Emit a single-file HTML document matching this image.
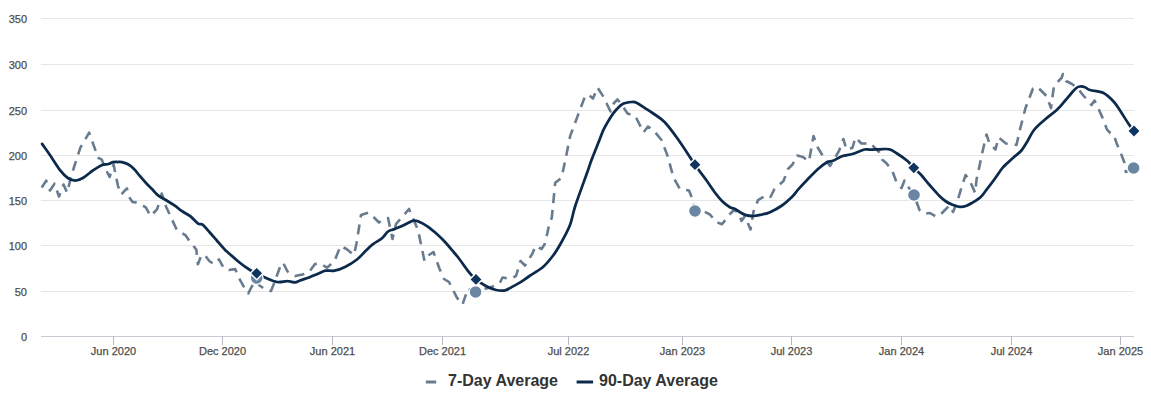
<!DOCTYPE html>
<html><head><meta charset="utf-8"><title>Chart</title>
<style>html,body{margin:0;padding:0;background:#fff;width:1151px;height:400px;overflow:hidden}svg{display:block}text{font-family:"Liberation Sans",sans-serif}</style>
</head><body>
<svg width="1151" height="400" viewBox="0 0 1151 400">
<rect width="1151" height="400" fill="#ffffff"/>
<path d="M41 18.5 L1134 18.5" stroke="#e6e6e6" stroke-width="1" fill="none"/>
<path d="M41 64.5 L1134 64.5" stroke="#e6e6e6" stroke-width="1" fill="none"/>
<path d="M41 110.5 L1134 110.5" stroke="#e6e6e6" stroke-width="1" fill="none"/>
<path d="M41 155.5 L1134 155.5" stroke="#e6e6e6" stroke-width="1" fill="none"/>
<path d="M41 200.5 L1134 200.5" stroke="#e6e6e6" stroke-width="1" fill="none"/>
<path d="M41 245.5 L1134 245.5" stroke="#e6e6e6" stroke-width="1" fill="none"/>
<path d="M41 291.5 L1134 291.5" stroke="#e6e6e6" stroke-width="1" fill="none"/>
<path d="M41 336.5 L1134 336.5" stroke="#c6cad2" stroke-width="1" fill="none"/>
<path d="M113.5 336 L113.5 345" stroke="#b4b8c0" stroke-width="1" fill="none"/>
<path d="M222.5 336 L222.5 345" stroke="#b4b8c0" stroke-width="1" fill="none"/>
<path d="M332.5 336 L332.5 345" stroke="#b4b8c0" stroke-width="1" fill="none"/>
<path d="M442.5 336 L442.5 345" stroke="#b4b8c0" stroke-width="1" fill="none"/>
<path d="M568.5 336 L568.5 345" stroke="#b4b8c0" stroke-width="1" fill="none"/>
<path d="M682.5 336 L682.5 345" stroke="#b4b8c0" stroke-width="1" fill="none"/>
<path d="M791.5 336 L791.5 345" stroke="#b4b8c0" stroke-width="1" fill="none"/>
<path d="M901.5 336 L901.5 345" stroke="#b4b8c0" stroke-width="1" fill="none"/>
<path d="M1011.5 336 L1011.5 345" stroke="#b4b8c0" stroke-width="1" fill="none"/>
<path d="M1120.5 336 L1120.5 345" stroke="#b4b8c0" stroke-width="1" fill="none"/>
<text x="27" y="22.5" text-anchor="end" font-family="Liberation Sans, sans-serif" font-size="11" fill="#4d4d4d" stroke="#4d4d4d" stroke-width="0.25">350</text>
<text x="27" y="68.5" text-anchor="end" font-family="Liberation Sans, sans-serif" font-size="11" fill="#4d4d4d" stroke="#4d4d4d" stroke-width="0.25">300</text>
<text x="27" y="114.5" text-anchor="end" font-family="Liberation Sans, sans-serif" font-size="11" fill="#4d4d4d" stroke="#4d4d4d" stroke-width="0.25">250</text>
<text x="27" y="159.5" text-anchor="end" font-family="Liberation Sans, sans-serif" font-size="11" fill="#4d4d4d" stroke="#4d4d4d" stroke-width="0.25">200</text>
<text x="27" y="204.5" text-anchor="end" font-family="Liberation Sans, sans-serif" font-size="11" fill="#4d4d4d" stroke="#4d4d4d" stroke-width="0.25">150</text>
<text x="27" y="249.5" text-anchor="end" font-family="Liberation Sans, sans-serif" font-size="11" fill="#4d4d4d" stroke="#4d4d4d" stroke-width="0.25">100</text>
<text x="27" y="295.5" text-anchor="end" font-family="Liberation Sans, sans-serif" font-size="11" fill="#4d4d4d" stroke="#4d4d4d" stroke-width="0.25">50</text>
<text x="27" y="340.5" text-anchor="end" font-family="Liberation Sans, sans-serif" font-size="11" fill="#4d4d4d" stroke="#4d4d4d" stroke-width="0.25">0</text>
<text x="113.5" y="355" text-anchor="middle" font-family="Liberation Sans, sans-serif" font-size="11" fill="#4d4d4d" stroke="#4d4d4d" stroke-width="0.25">Jun 2020</text>
<text x="222.5" y="355" text-anchor="middle" font-family="Liberation Sans, sans-serif" font-size="11" fill="#4d4d4d" stroke="#4d4d4d" stroke-width="0.25">Dec 2020</text>
<text x="332.5" y="355" text-anchor="middle" font-family="Liberation Sans, sans-serif" font-size="11" fill="#4d4d4d" stroke="#4d4d4d" stroke-width="0.25">Jun 2021</text>
<text x="442.5" y="355" text-anchor="middle" font-family="Liberation Sans, sans-serif" font-size="11" fill="#4d4d4d" stroke="#4d4d4d" stroke-width="0.25">Dec 2021</text>
<text x="568.5" y="355" text-anchor="middle" font-family="Liberation Sans, sans-serif" font-size="11" fill="#4d4d4d" stroke="#4d4d4d" stroke-width="0.25">Jul 2022</text>
<text x="682.5" y="355" text-anchor="middle" font-family="Liberation Sans, sans-serif" font-size="11" fill="#4d4d4d" stroke="#4d4d4d" stroke-width="0.25">Jan 2023</text>
<text x="791.5" y="355" text-anchor="middle" font-family="Liberation Sans, sans-serif" font-size="11" fill="#4d4d4d" stroke="#4d4d4d" stroke-width="0.25">Jul 2023</text>
<text x="901.5" y="355" text-anchor="middle" font-family="Liberation Sans, sans-serif" font-size="11" fill="#4d4d4d" stroke="#4d4d4d" stroke-width="0.25">Jan 2024</text>
<text x="1011.5" y="355" text-anchor="middle" font-family="Liberation Sans, sans-serif" font-size="11" fill="#4d4d4d" stroke="#4d4d4d" stroke-width="0.25">Jul 2024</text>
<text x="1120.5" y="355" text-anchor="middle" font-family="Liberation Sans, sans-serif" font-size="11" fill="#4d4d4d" stroke="#4d4d4d" stroke-width="0.25">Jan 2025</text>
<path d="M41.7 187.5 L46.2 180.7 L50.0 190.5 L54.5 183.7 L59.0 196.5 L63.5 184.5 L67.2 192.7 L71.0 177.0 L74.7 165.0 L80.4 147.7 L89.2 132.6 L98.0 157.6 L101.7 159.6 L105.1 168.0 L109.6 177.0 L113.6 164.6 L117.9 185.6 L121.2 194.6 L126.9 188.4 L129.1 196.9 L132.5 201.9 L135.9 202.5 L141.5 204.7 L146.0 207.6 L150.5 216.0 L157.2 209.2 L161.7 193.5 L166.2 207.0 L173.0 221.6 L176.7 229.7 L185.7 235.4 L189.8 241.5 L196.3 249.6 L197.9 264.3 L201.1 256.1 L204.4 254.5 L209.3 261.0 L214.1 264.3 L219.0 259.4 L223.9 268.3 L228.8 270.0 L235.3 269.1 L238.5 277.3 L245.0 288.7 L248.3 293.5 L251.5 287.0 L256.7 280.0 L259.0 285.0 L265.0 289.5 L271.0 291.0 L274.0 283.5 L280.0 267.0 L283.0 262.5 L287.5 271.5 L295.0 276.0 L302.5 274.5 L309.0 272.2 L315.0 264.0 L319.5 263.2 L327.0 267.7 L334.5 261.0 L340.5 246.0 L346.5 249.0 L354.0 255.0 L356.5 243.5 L361.0 215.0 L368.5 212.7 L373.0 216.5 L379.0 222.5 L383.5 219.5 L388.0 218.0 L392.5 239.0 L396.0 224.0 L409.0 209.0 L413.5 219.5 L418.0 230.0 L424.5 261.0 L429.0 255.0 L433.5 252.0 L439.4 268.5 L444.0 279.0 L449.0 282.0 L456.9 297.6 L462.5 304.5 L468.0 288.5 L475.6 292.0 L492.9 286.4 L499.5 283.5 L502.5 277.5 L510.0 279.0 L516.0 276.0 L520.5 261.0 L525.0 265.5 L532.5 253.5 L535.5 246.0 L541.5 249.0 L544.5 244.5 L547.5 232.5 L549.0 225.0 L551.8 217.7 L555.2 182.8 L561.5 177.8 L565.3 160.2 L570.3 135.6 L577.9 115.4 L585.4 95.3 L589.2 95.3 L593.0 98.5 L597.5 87.5 L602.9 95.9 L606.4 103.0 L610.5 111.5 L614.0 103.0 L617.5 99.5 L621.0 103.5 L627.4 113.4 L635.3 116.0 L638.8 123.0 L643.5 132.5 L648.0 126.5 L654.0 131.0 L661.5 140.0 L667.3 155.1 L673.6 177.8 L680.0 189.0 L689.0 190.5 L692.0 198.0 L695.0 210.7 L704.0 211.5 L710.0 214.5 L716.0 222.0 L722.0 224.2 L729.5 214.5 L734.0 210.0 L738.5 213.0 L741.5 221.0 L745.0 216.0 L750.5 229.5 L753.5 211.5 L758.0 200.2 L764.0 196.5 L770.0 198.0 L774.5 189.0 L783.5 181.0 L788.0 169.0 L792.5 164.5 L797.0 155.5 L803.0 157.0 L809.0 161.5 L813.5 136.0 L818.0 148.0 L824.0 157.7 L830.0 166.0 L839.0 151.0 L843.4 139.0 L846.4 149.5 L852.4 148.0 L855.4 137.5 L861.4 143.5 L867.4 143.5 L870.0 143.0 L879.0 152.0 L882.0 159.5 L886.5 163.2 L892.5 171.5 L897.0 183.5 L901.5 188.0 L904.5 180.5 L909.0 188.0 L914.0 195.0 L919.5 210.0 L924.0 213.7 L930.0 213.0 L936.0 216.7 L940.5 214.5 L945.0 210.0 L949.5 205.5 L953.0 212.0 L957.4 201.2 L961.5 187.5 L965.6 175.0 L969.7 180.6 L975.2 193.0 L976.6 179.2 L979.3 166.9 L982.0 154.0 L986.5 134.5 L989.5 143.5 L995.5 149.5 L998.5 137.5 L1006.0 143.5 L1016.5 145.0 L1019.5 131.5 L1025.5 108.0 L1033.0 88.5 L1037.5 87.0 L1046.5 96.0 L1051.0 108.0 L1054.0 85.5 L1061.5 78.0 L1063.0 74.0 L1066.0 81.0 L1072.0 84.0 L1078.0 88.5 L1082.5 94.5 L1091.5 105.0 L1094.5 100.5 L1097.5 106.5 L1103.5 120.0 L1107.0 129.6 L1110.4 133.0 L1113.7 134.5 L1117.0 144.3 L1121.8 155.7 L1124.2 162.0 L1125.8 172.0 L1133.6 168.0" stroke="#687b8f" stroke-width="2.6" fill="none" stroke-dasharray="10,7" stroke-linejoin="round"/>
<path d="M42.1 143.9 C43.4 145.8 47.1 150.9 50.1 155.3 C53.1 159.7 57.2 166.6 60.2 170.4 C63.2 174.2 65.3 176.3 67.8 178.0 C70.3 179.7 72.8 180.5 75.3 180.5 C77.8 180.5 80.0 179.7 82.9 178.0 C85.9 176.3 89.9 172.5 93.0 170.4 C96.1 168.3 99.1 166.3 101.7 165.2 C104.3 164.1 106.6 164.5 108.5 164.0 C110.4 163.5 111.5 162.5 113.0 162.2 C114.5 161.9 116.0 162.0 117.5 162.0 C119.0 162.0 120.2 161.8 122.0 162.2 C123.8 162.6 126.0 163.2 128.0 164.3 C130.0 165.4 132.0 167.0 134.0 169.0 C136.0 171.0 138.0 173.9 140.0 176.2 C142.0 178.5 144.0 180.9 146.0 183.0 C148.0 185.1 149.9 186.9 152.0 189.0 C154.1 191.1 156.0 193.8 158.4 195.7 C160.8 197.6 163.4 198.5 166.2 200.2 C169.0 201.9 172.7 204.2 175.2 205.9 C177.7 207.6 178.7 208.9 181.2 210.6 C183.7 212.3 187.4 214.0 190.2 216.2 C193.0 218.4 196.0 222.2 198.1 223.6 C200.2 225.0 200.7 223.3 202.6 224.7 C204.5 226.1 207.0 229.3 209.4 232.0 C211.8 234.7 214.6 238.0 217.2 241.0 C219.8 244.0 223.4 248.2 225.1 250.0 C226.8 251.8 225.1 249.9 227.5 252.0 C229.9 254.1 235.8 259.5 239.5 262.5 C243.2 265.5 247.1 268.2 250.0 270.0 C252.9 271.8 254.2 272.1 256.7 273.3 C259.2 274.6 261.6 276.1 265.0 277.5 C268.4 278.9 273.2 281.4 277.0 282.0 C280.8 282.6 284.5 281.1 287.5 281.2 C290.5 281.2 292.9 282.4 295.0 282.3 C297.1 282.2 297.7 281.3 300.0 280.5 C302.3 279.7 306.0 278.6 309.0 277.5 C312.0 276.4 315.2 274.8 318.0 273.7 C320.8 272.6 322.8 271.2 325.5 270.7 C328.2 270.2 331.2 271.3 334.5 270.7 C337.8 270.1 341.2 268.9 345.0 267.0 C348.8 265.1 353.5 262.2 357.0 259.5 C360.5 256.8 363.3 253.1 366.0 250.5 C368.7 247.9 370.3 246.2 373.0 244.2 C375.7 242.1 379.5 240.3 382.0 238.2 C384.5 236.1 386.0 233.0 388.0 231.5 C390.0 230.0 391.5 230.2 394.0 229.2 C396.5 228.2 400.5 226.6 403.0 225.5 C405.5 224.4 407.2 223.3 409.0 222.5 C410.8 221.7 412.0 220.9 413.5 220.7 C415.0 220.5 415.8 220.4 418.0 221.3 C420.2 222.2 423.8 224.0 427.0 226.2 C430.2 228.4 434.4 231.9 437.4 234.5 C440.4 237.1 442.2 239.0 445.0 242.0 C447.8 245.0 451.7 249.8 454.0 252.5 C456.3 255.2 456.2 254.8 458.6 258.0 C461.1 261.2 465.8 268.2 468.7 271.8 C471.6 275.4 473.1 277.0 476.0 279.4 C478.9 281.8 482.9 284.4 486.3 286.2 C489.7 288.0 493.1 289.3 496.2 290.0 C499.3 290.7 502.4 290.9 505.2 290.3 C508.0 289.7 510.4 287.8 513.0 286.4 C515.6 285.0 518.2 283.6 521.0 281.9 C523.8 280.2 525.8 278.5 529.5 276.0 C533.2 273.5 539.0 270.5 543.0 267.0 C547.0 263.5 550.5 259.0 553.5 255.0 C556.5 251.0 558.2 248.0 561.0 243.0 C563.8 238.0 567.6 231.2 570.0 225.0 C572.4 218.8 572.4 214.6 575.4 205.5 C578.4 196.4 585.3 177.9 588.0 170.2 C590.7 162.5 589.7 164.8 591.7 159.5 C593.7 154.2 598.0 143.6 600.0 138.5 C602.0 133.4 602.0 132.8 603.8 129.2 C605.6 125.6 608.6 120.3 610.8 116.9 C613.0 113.5 614.9 111.2 616.9 109.0 C618.9 106.8 620.5 105.0 623.0 103.8 C625.5 102.6 629.5 102.2 631.8 102.0 C634.1 101.8 634.8 101.9 637.0 102.9 C639.2 103.9 642.4 106.4 645.0 108.1 C647.6 109.8 649.2 110.7 652.5 113.0 C655.8 115.3 660.2 117.6 664.5 122.0 C668.8 126.4 672.9 132.1 678.0 139.2 C683.1 146.3 690.3 157.8 695.0 164.7 C699.7 171.5 703.1 175.8 706.4 180.3 C709.6 184.9 711.9 188.6 714.5 192.0 C717.1 195.4 719.5 198.5 722.0 201.0 C724.5 203.5 727.2 205.6 729.5 207.0 C731.8 208.4 733.8 208.3 735.5 209.2 C737.2 210.1 738.2 211.2 740.0 212.2 C741.8 213.2 743.8 214.6 746.0 215.2 C748.2 215.8 750.8 216.1 753.5 216.0 C756.2 215.9 759.2 215.1 762.0 214.5 C764.8 213.9 766.7 213.7 770.0 212.2 C773.3 210.7 778.3 208.1 782.0 205.5 C785.7 202.9 789.6 199.2 792.4 196.5 C795.1 193.8 796.0 192.0 798.5 189.2 C801.0 186.4 804.2 182.9 807.5 179.5 C810.8 176.1 814.8 171.9 818.0 169.0 C821.2 166.1 824.5 163.6 827.0 162.2 C829.5 160.8 830.5 161.7 833.0 160.7 C835.5 159.7 838.8 157.3 842.0 156.2 C845.2 155.1 848.7 155.1 852.4 154.0 C856.1 152.9 861.5 150.2 864.4 149.5 C867.3 148.8 867.4 149.7 870.0 149.7 C872.6 149.7 876.8 149.4 880.0 149.3 C883.2 149.2 886.7 148.6 889.5 149.3 C892.3 150.0 894.0 151.6 897.0 153.5 C900.0 155.4 904.7 158.6 907.5 161.0 C910.3 163.4 911.5 165.5 913.8 167.8 C916.0 170.1 918.3 171.9 921.0 174.8 C923.7 177.8 926.8 181.9 930.0 185.5 C933.2 189.1 937.3 193.8 940.0 196.5 C942.7 199.2 943.9 200.1 946.0 201.5 C948.1 202.9 950.2 203.8 952.5 204.7 C954.8 205.6 957.8 206.6 960.0 206.8 C962.2 207.0 963.9 206.7 966.0 206.0 C968.1 205.3 970.0 204.1 972.5 202.6 C975.0 201.1 978.4 199.1 980.7 197.0 C983.0 194.9 983.8 193.3 986.2 190.2 C988.6 187.1 992.4 182.1 995.0 178.5 C997.6 174.9 999.9 171.1 1002.0 168.5 C1004.1 165.9 1005.5 164.9 1007.5 163.0 C1009.5 161.1 1011.8 159.0 1014.0 157.0 C1016.2 155.0 1018.8 153.5 1021.0 151.0 C1023.2 148.5 1024.8 145.5 1027.0 142.0 C1029.2 138.5 1031.0 133.8 1034.0 130.0 C1037.0 126.2 1041.2 122.9 1045.0 119.5 C1048.8 116.1 1053.8 112.7 1057.0 109.7 C1060.2 106.7 1061.9 104.4 1064.4 101.5 C1066.9 98.6 1070.0 94.8 1072.0 92.5 C1074.0 90.2 1075.1 89.0 1076.4 88.0 C1077.7 87.0 1078.6 86.6 1080.0 86.5 C1081.4 86.4 1083.3 86.6 1085.0 87.2 C1086.7 87.8 1086.9 89.0 1090.0 90.0 C1093.1 91.0 1099.5 91.0 1103.5 93.0 C1107.5 95.0 1111.1 98.8 1114.0 102.0 C1116.9 105.2 1118.5 108.2 1121.0 112.0 C1123.5 115.8 1126.8 121.3 1129.0 124.5 C1131.2 127.7 1133.2 129.9 1134.0 131.0" stroke="#0c2a4c" stroke-width="2.75" fill="none" stroke-linejoin="round" stroke-linecap="round"/>
<circle cx="256.7" cy="278" r="7" fill="#ffffff"/><circle cx="256.7" cy="278" r="5.8" fill="#6a86a2"/>
<circle cx="475.6" cy="292" r="7" fill="#ffffff"/><circle cx="475.6" cy="292" r="5.8" fill="#6a86a2"/>
<circle cx="695" cy="211" r="7" fill="#ffffff"/><circle cx="695" cy="211" r="5.8" fill="#6a86a2"/>
<circle cx="914" cy="195" r="7" fill="#ffffff"/><circle cx="914" cy="195" r="5.8" fill="#6a86a2"/>
<circle cx="1133.6" cy="168" r="7" fill="#ffffff"/><circle cx="1133.6" cy="168" r="5.8" fill="#6a86a2"/>
<path d="M256.7 265.90000000000003 L264.09999999999997 273.3 L256.7 280.7 L249.29999999999998 273.3 Z" fill="#ffffff"/><path d="M256.7 267.90000000000003 L262.09999999999997 273.3 L256.7 278.7 L251.29999999999998 273.3 Z" fill="#0e3560"/>
<path d="M476 272.0 L483.4 279.4 L476 286.79999999999995 L468.6 279.4 Z" fill="#ffffff"/><path d="M476 274.0 L481.4 279.4 L476 284.79999999999995 L470.6 279.4 Z" fill="#0e3560"/>
<path d="M695 157.29999999999998 L702.4 164.7 L695 172.1 L687.6 164.7 Z" fill="#ffffff"/><path d="M695 159.29999999999998 L700.4 164.7 L695 170.1 L689.6 164.7 Z" fill="#0e3560"/>
<path d="M913.8 160.4 L921.1999999999999 167.8 L913.8 175.20000000000002 L906.4 167.8 Z" fill="#ffffff"/><path d="M913.8 162.4 L919.1999999999999 167.8 L913.8 173.20000000000002 L908.4 167.8 Z" fill="#0e3560"/>
<path d="M1134 123.6 L1141.4 131 L1134 138.4 L1126.6 131 Z" fill="#ffffff"/><path d="M1134 125.6 L1139.4 131 L1134 136.4 L1128.6 131 Z" fill="#0e3560"/>
<path d="M425.8 382 L436.2 382" stroke="#687b8f" stroke-width="3" fill="none"/>
<text x="448" y="386" font-family="Liberation Sans, sans-serif" font-size="16" font-weight="bold" fill="#333333">7-Day Average</text>
<path d="M576.6 382 L593.1 382" stroke="#0c2a4c" stroke-width="3" fill="none"/>
<text x="599" y="386" font-family="Liberation Sans, sans-serif" font-size="16" font-weight="bold" fill="#333333">90-Day Average</text>
</svg>
</body></html>
